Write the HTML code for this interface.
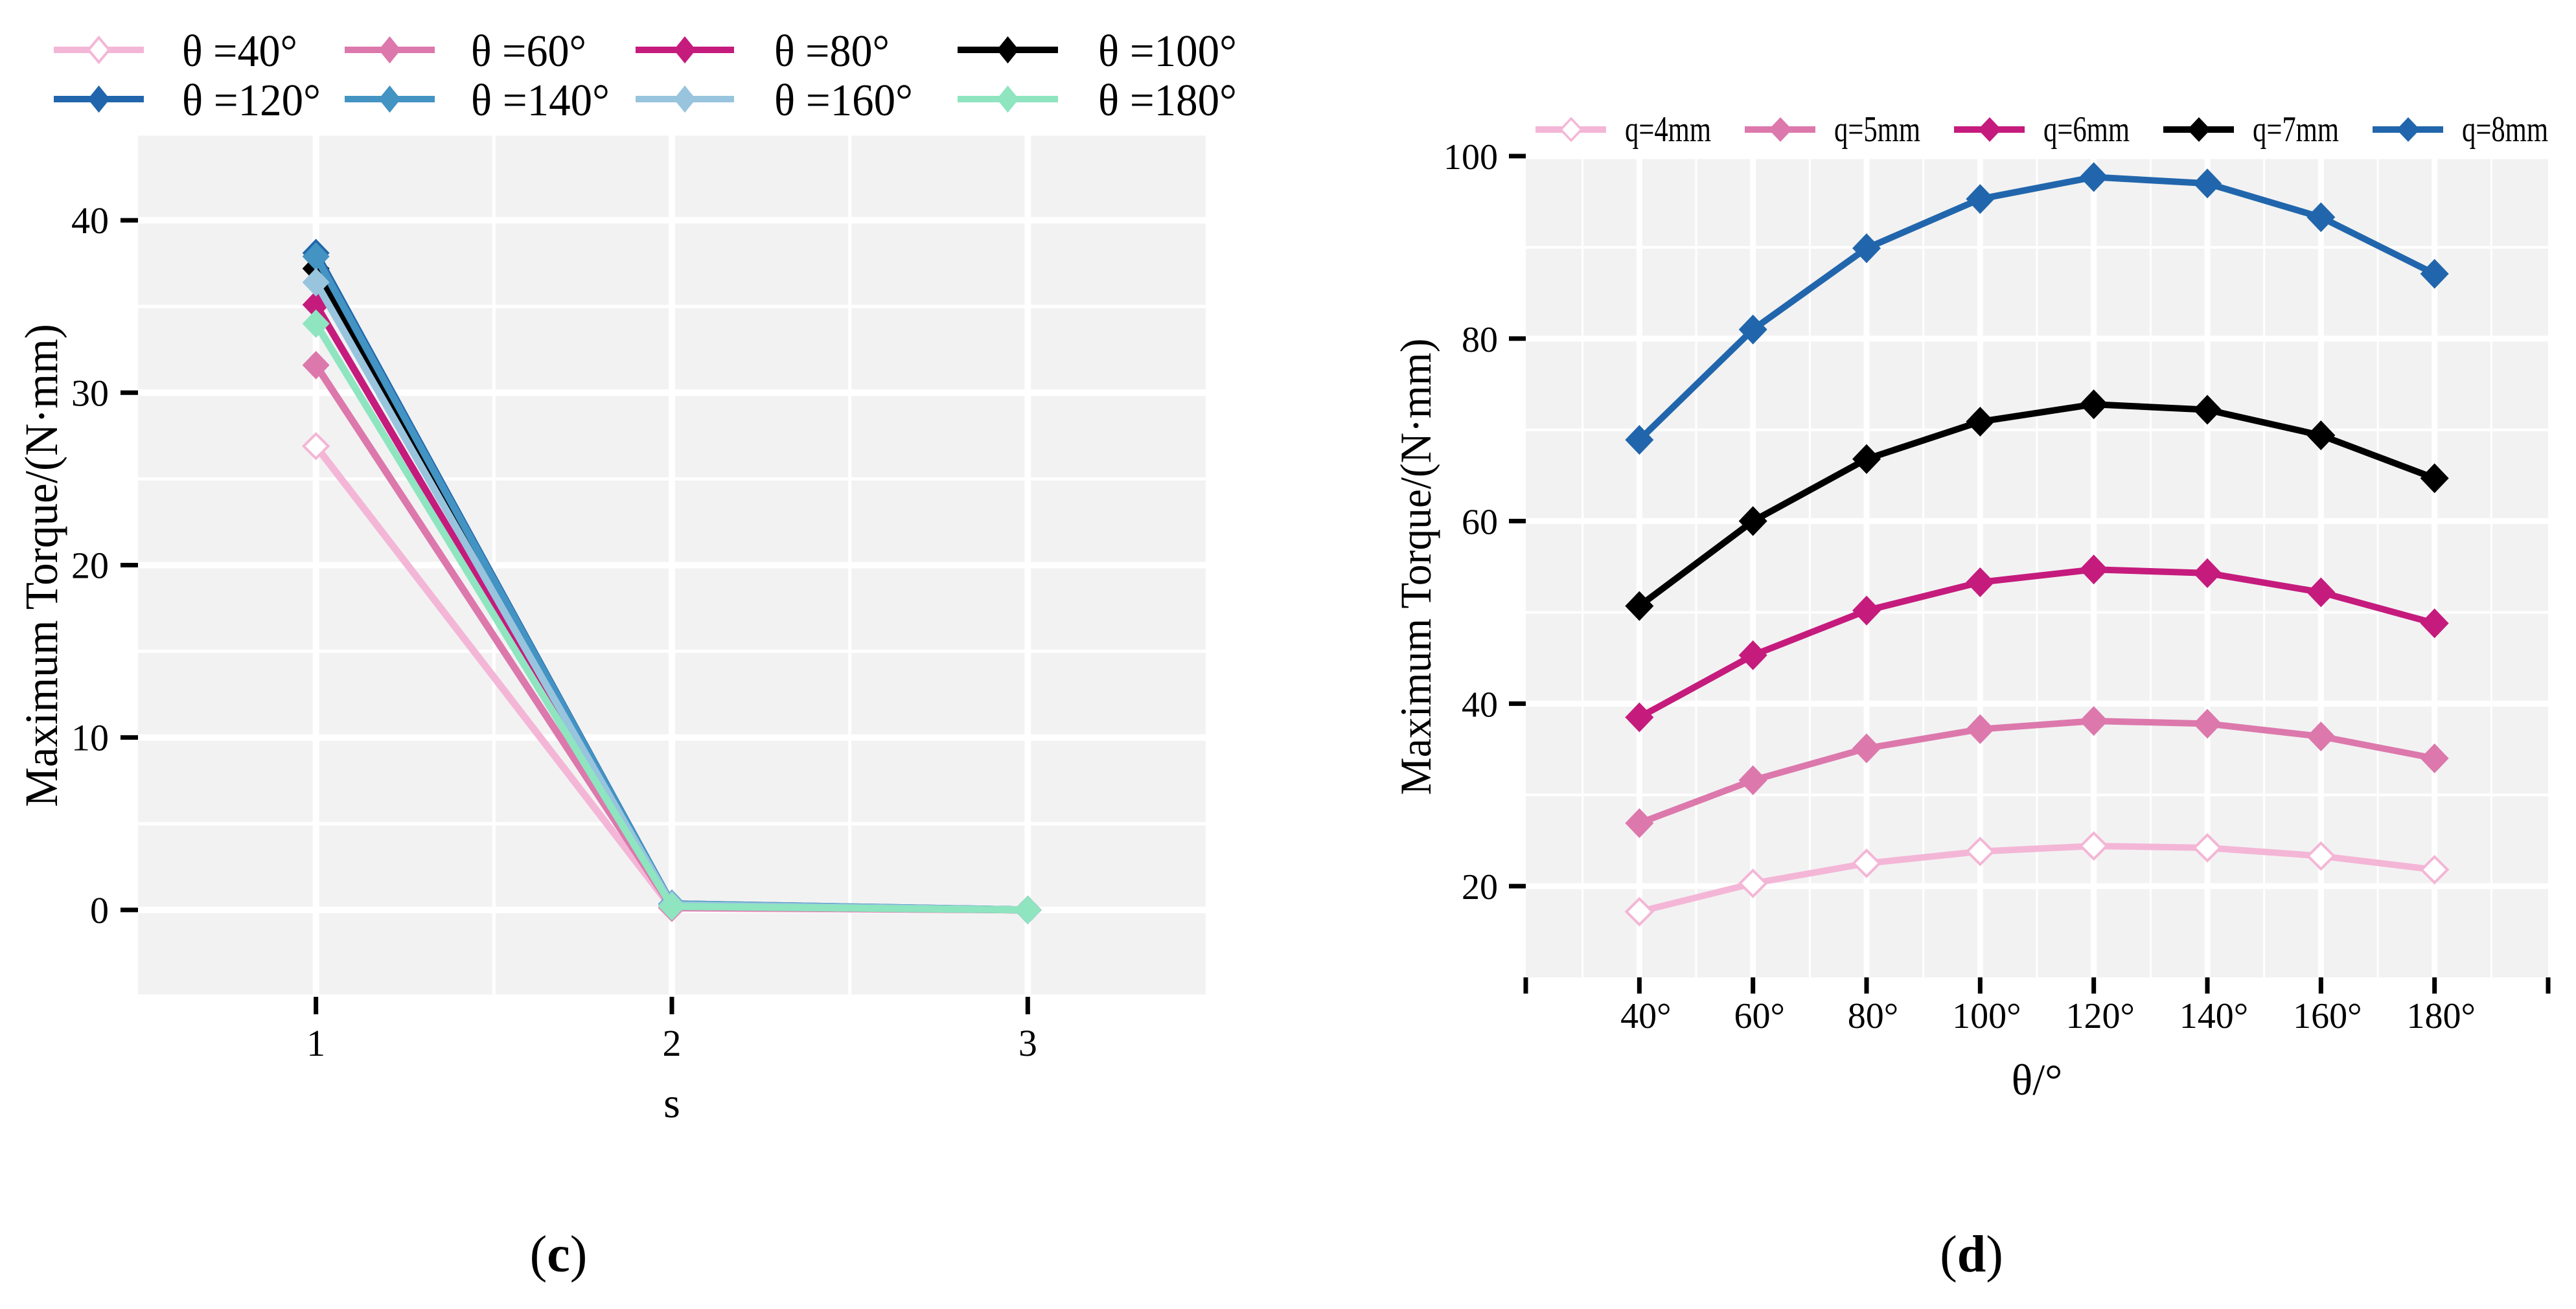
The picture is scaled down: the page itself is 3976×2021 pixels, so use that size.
<!DOCTYPE html>
<html><head><meta charset="utf-8"><style>
html,body{margin:0;padding:0;background:#fff;}
svg{display:block;font-family:"Liberation Serif","Noto Serif CJK SC",serif;}
</style></head><body>
<svg id="fig" width="3976" height="2021" viewBox="0 0 3976 2021" xmlns="http://www.w3.org/2000/svg">
<rect x="0" y="0" width="3976" height="2021" fill="#fff"/>
<g id="left"></g>
<g id="right"></g>
<text x="862" y="1963" font-size="80" text-anchor="middle">(<tspan font-weight="bold">c</tspan>)</text>
<text x="3043" y="1963" font-size="80" text-anchor="middle">(<tspan font-weight="bold">d</tspan>)</text>
</svg>
<script>
// ---- Chart (c) data ----
const cCategories = [1, 2, 3];
const cSeriesNames = ["θ =40°","θ =60°","θ =80°","θ =100°","θ =120°","θ =140°","θ =160°","θ =180°"];
const cTheta40 = [26.9, 0.1, 0.0];
const cTheta60 = [31.6, 0.15, 0.0];
const cTheta80 = [35.1, 0.2, 0.0];
const cTheta100 = [37.2, 0.3, 0.0];
const cTheta120 = [38.1, 0.35, 0.0];
const cTheta140 = [37.9, 0.35, 0.0];
const cTheta160 = [36.4, 0.3, 0.0];
const cTheta180 = [34.0, 0.2, 0.0];
const cYTicks = [0, 10, 20, 30, 40];
// ---- Chart (d) data ----
const dCategories = [40, 60, 80, 100, 120, 140, 160, 180];
const dXTickLabels = ["40°","60°","80°","100°","120°","140°","160°","180°"];
const dSeriesNames = ["q=4mm","q=5mm","q=6mm","q=7mm","q=8mm"];
const dQ4 = [17.2, 20.3, 22.5, 23.8, 24.4, 24.2, 23.3, 21.8];
const dQ5 = [26.9, 31.6, 35.1, 37.2, 38.1, 37.8, 36.4, 34.0];
const dQ6 = [38.5, 45.3, 50.2, 53.3, 54.7, 54.3, 52.2, 48.8];
const dQ7 = [50.7, 60.0, 66.8, 70.9, 72.8, 72.2, 69.4, 64.7];
const dQ8 = [68.9, 81.0, 89.9, 95.3, 97.7, 97.0, 93.3, 87.1];
const dYTicks = [20, 40, 60, 80, 100];

const NS = "http://www.w3.org/2000/svg";
function mk(parent, tag, attrs, text){
  const e = document.createElementNS(NS, tag);
  for (const k in attrs) e.setAttribute(k, attrs[k]);
  if (text !== undefined) e.textContent = text;
  parent.appendChild(e);
  return e;
}
function diamondPts(cx, cy, hw, hh){
  return (cx)+","+(cy-hh)+" "+(cx+hw)+","+cy+" "+(cx)+","+(cy+hh)+" "+(cx-hw)+","+cy;
}

// ================= Chart (c) =================
(function(){
  const g = document.getElementById('left');
  const L=213, R=1861, T=207, B=1539;
  const xMin=0.5, xMax=3.5, yMin=-5.04, yMax=45;
  const xs = v => L + (v-xMin)/(xMax-xMin)*(R-L);
  const ys = v => B - (v-yMin)/(yMax-yMin)*(B-T);
  const colors = ["#f4b6d6","#dc78ac","#c51b7d","#000000","#2166ac","#4393c3","#98c4de","#8ee5c0"];
  const series = [cTheta40,cTheta60,cTheta80,cTheta100,cTheta120,cTheta140,cTheta160,cTheta180];

  const bg = mk(g,'rect',{x:L,y:T,width:R-L,height:B-T,fill:'#f2f2f2'});
  
  
  for (let v=-5; v<=45; v+=10){
    const l = mk(g,'line',{x1:L,x2:R,y1:ys(v),y2:ys(v),stroke:'#fff','stroke-width':5});
    
    
  }
  [1.5,2.5].forEach(v=>{
    const l = mk(g,'line',{x1:xs(v),x2:xs(v),y1:T,y2:B,stroke:'#fff','stroke-width':5});
    
    
  });
  cYTicks.forEach(v=>{
    const l = mk(g,'line',{x1:L,x2:R,y1:ys(v),y2:ys(v),stroke:'#fff','stroke-width':10});
    
    
    const t = mk(g,'line',{x1:L-27,x2:L,y1:ys(v),y2:ys(v),stroke:'#000','stroke-width':7});
    
    
    const lab = mk(g,'text',{x:168,y:ys(v)+20,'font-size':58,'text-anchor':'end'},String(v));
    
    
  });
  cCategories.forEach(v=>{
    const l = mk(g,'line',{x1:xs(v),x2:xs(v),y1:T,y2:B,stroke:'#fff','stroke-width':10});
    
    
    const t = mk(g,'line',{x1:xs(v),x2:xs(v),y1:B,y2:B+27,stroke:'#000','stroke-width':7});
    
    
    const lab = mk(g,'text',{x:xs(v),y:1630,'font-size':58,'text-anchor':'middle'},String(v));
    
    
  });
  series.forEach((arr,i)=>{
    const sg = mk(g,'g',{});
    
    
    const pts = arr.map((v,j)=>xs(cCategories[j])+","+ys(v)).join(" ");
    const pl = mk(sg,'polyline',{points:pts,fill:'none',stroke:colors[i],'stroke-width':11,'stroke-linejoin':'round'});
    
    
    arr.forEach((v,j)=>{
      const open = i===0;
      const p = mk(sg,'polygon',{points:diamondPts(xs(cCategories[j]),ys(v),open?19:21,open?19:22),
        fill:open?'#fff':colors[i],stroke:colors[i],'stroke-width':open?4:0});
      
      
    });
  });
  const yt = mk(g,'text',{x:0,y:0,'font-size':72,'text-anchor':'middle',transform:'translate(88,873) rotate(-90)',textLength:746,lengthAdjust:'spacingAndGlyphs'},'Maximum Torque/(N·mm)');
  
  
  const xt = mk(g,'text',{x:1037,y:1725,'font-size':66,'text-anchor':'middle'},'s');
  
  
  const lineX = [[83,222],[532,671],[981,1133],[1478,1633]];
  const textX = [281,727,1195,1695];
  const rowY = [77,153];
  cSeriesNames.forEach((name,i)=>{
    const r = Math.floor(i/4), c = i%4;
    const lg = mk(g,'g',{});
    
    
    const y = rowY[r];
    mk(lg,'line',{x1:lineX[c][0],x2:lineX[c][1],y1:y,y2:y,stroke:colors[i],'stroke-width':10});
    const cx=(lineX[c][0]+lineX[c][1])/2;
    const open = i===0;
    mk(lg,'polygon',{points:diamondPts(cx,y,open?16:17,open?19:21),fill:open?'#fff':colors[i],stroke:colors[i],'stroke-width':open?4:0});
    const w = name.length>6 ? 214 : 178;
    const t = mk(lg,'text',{x:textX[c],y:y+25,'font-size':70,textLength:w,lengthAdjust:'spacingAndGlyphs'},name);
    
    
  });
})();

// ================= Chart (d) =================
(function(){
  const g = document.getElementById('right');
  const L=2355, R=3933, T=241, B=1509;
  const xMin=20, xMax=200, yMin=10, yMax=100;
  const xs = v => L + (v-xMin)/(xMax-xMin)*(R-L);
  const ys = v => B - (v-yMin)/(yMax-yMin)*(B-T);
  const colors = ["#f4b6d6","#dc78ac","#c51b7d","#000000","#2166ac"];
  const series = [dQ4,dQ5,dQ6,dQ7,dQ8];

  const bg = mk(g,'rect',{x:L,y:T,width:R-L,height:B-T,fill:'#f2f2f2'});
  
  
  for (let v=30; v<=190; v+=20){
    const l = mk(g,'line',{x1:xs(v),x2:xs(v),y1:T,y2:B,stroke:'#fff','stroke-width':3});
    
    
  }
  for (let v=30; v<=90; v+=20){
    const l = mk(g,'line',{x1:L,x2:R,y1:ys(v),y2:ys(v),stroke:'#fff','stroke-width':4});
    
    
  }
  dYTicks.forEach(v=>{
    const l = mk(g,'line',{x1:L,x2:R,y1:ys(v),y2:ys(v),stroke:'#fff','stroke-width':9});
    
    
    const t = mk(g,'line',{x1:L-26,x2:L,y1:ys(v),y2:ys(v),stroke:'#000','stroke-width':7});
    
    
    const lab = mk(g,'text',{x:2312,y:ys(v)+20,'font-size':56,'text-anchor':'end'},String(v));
    
    
  });
  dCategories.forEach((v,i)=>{
    const l = mk(g,'line',{x1:xs(v),x2:xs(v),y1:T,y2:B,stroke:'#fff','stroke-width':9});
    
    
    const lab = mk(g,'text',{x:xs(v)+10,y:1587,'font-size':56,'text-anchor':'middle'},dXTickLabels[i]);
    
    
  });
  [20].concat(dCategories,[200]).forEach(v=>{
    const t = mk(g,'line',{x1:xs(v),x2:xs(v),y1:B,y2:B+25,stroke:'#000','stroke-width':7});
    
    
  });
  series.forEach((arr,i)=>{
    const sg = mk(g,'g',{});
    
    
    const pts = arr.map((v,j)=>xs(dCategories[j])+","+ys(v)).join(" ");
    const pl = mk(sg,'polyline',{points:pts,fill:'none',stroke:colors[i],'stroke-width':10,'stroke-linejoin':'round'});
    
    
    arr.forEach((v,j)=>{
      const open = i===0;
      const p = mk(sg,'polygon',{points:diamondPts(xs(dCategories[j]),ys(v),open?20:22,open?20:23),
        fill:open?'#fff':colors[i],stroke:colors[i],'stroke-width':open?4:0});
      
      
    });
  });
  const yt = mk(g,'text',{x:0,y:0,'font-size':68,'text-anchor':'middle',transform:'translate(2208,875) rotate(-90)',textLength:705,lengthAdjust:'spacingAndGlyphs'},'Maximum Torque/(N·mm)');
  
  
  const xt = mk(g,'text',{x:3144,y:1690,'font-size':68,'text-anchor':'middle'},'θ/°');
  
  
  dSeriesNames.forEach((name,i)=>{
    const x0 = 2370 + 323*i, y = 200;
    const lg = mk(g,'g',{});
    
    
    mk(lg,'line',{x1:x0,x2:x0+109,y1:y,y2:y,stroke:colors[i],'stroke-width':10});
    const open = i===0;
    mk(lg,'polygon',{points:diamondPts(x0+55,y,open?16:18,open?17:19),fill:open?'#fff':colors[i],stroke:colors[i],'stroke-width':open?3.5:0});
    const t = mk(lg,'text',{x:x0+138,y:218,'font-size':56,textLength:133,lengthAdjust:'spacingAndGlyphs'},name);
    
    
  });
})();
</script>
</body></html>
